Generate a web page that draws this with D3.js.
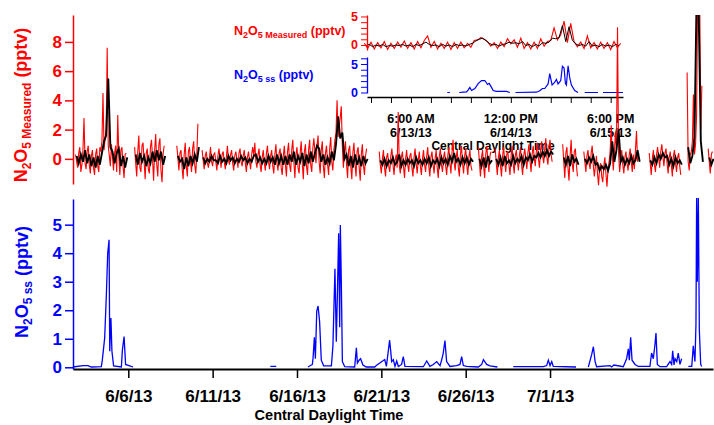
<!DOCTYPE html>
<html>
<head>
<meta charset="utf-8">
<script src="https://cdn.jsdelivr.net/npm/d3@7"></script>
<style>
body { margin: 0; background: #fff; }
text { font-family: "Liberation Sans", Arial, sans-serif; font-weight: bold; }
</style>
</head>
<body>
<div id="chart"></div>
<script>
// ---- data ----

// main x axis tick labels
const dateTicks = ["6/6/13", "6/11/13", "6/16/13", "6/21/13", "6/26/13", "7/1/13"];

// N2O5 measured (pptv), one value every 1.5 h starting 6/2/13 21:00, null = no data
const measuredStart = "2013-06-02 21:00";
const measuredStepHours = 1.5;
const measured = [
  0.3, -0.2, -0.6, 0.4, 0.8, -0.9, -0.4, 0.6, 2.8, -0.3, -0.7, 0.5, 0.9, -0.4, -1.0, 0.2, 0.6, -0.6, -1.1, 0.3,
  0.7, -0.5, -0.9, 0.8, 0.5, 1.2, 4.5, 0.6, 1.4, 2.0, 7.6, 0.9, 0.2, -0.5, 1.0, 0.1, -0.8, 0.4, 0.9, -0.9,
  3.0, 0.2, -1.1, 0.6, 0.8, -0.5, -1.3, 0.3, 0.4,
  null, null, null, null, null, null, null,
  0.8, -0.3, -1.2, 0.5, 1.6, -0.6, -0.9, 0.9, 1.1, -0.2, -1.4, 0.4, 0.7, -0.7, -1.0, 0.8, 1.3, 0.0, -1.5, 0.6,
  1.7, -0.4, -1.2, 1.0, 1.4, -0.8, -1.6, 0.3, 0.9,
  null, null, null, null, null, null, null, null, null, null, null,
  0.9, 0.1, -0.8, 0.4, 0.6, -0.6, -1.4, 0.3, 1.1, -0.5, -1.2, 0.5, 0.8, -0.2, -0.9, 0.7, 1.2, -0.4, -1.0, 0.3,
  2.4,
  null, null, null,
  0.6, -0.1, -0.7, 0.2, 0.5, -0.3, -0.6, 0.1, 0.8, -0.2, -0.5, 0.3, 0.4, -0.2, -0.8, 0.2, 0.7, 0.0, -0.6, 0.3,
  0.5, -0.2, -0.7, 0.1, 0.9, -0.1, -0.4, 0.3, 0.6, -0.3, -0.8, 0.2, 0.5, 0.0, -0.6, 0.4, 0.7, -0.2, -0.5, 0.2,
  0.6, -0.3, -0.9, 0.1, 0.5, -0.2, -0.7, 0.3, 0.8, 0.2, 1.1, -0.2, -0.6, 0.3, 0.7, -0.4, -0.9, 0.1, 0.6, -0.3,
  -0.8, 0.4, 0.9, -0.2, -0.7, 0.2, 0.6, -0.5, -1.0, 0.3, 1.0, -0.3, -0.8, 0.4, 0.7, -0.6, -1.1, 0.2, 0.9, -0.4,
  -1.2, 0.5, 1.1, -0.4, -0.9, 0.6, 1.3, -0.2, -1.3, 0.3, 0.8, -0.6, -1.0, 0.4, 1.2, -0.3, -1.4, 0.5, 1.0, -0.5,
  -1.1, 0.6, 1.3, -0.4, -0.9, 0.7, 1.4, 0.5, -0.3, 0.9, 1.6, -0.2, -1.0, 0.6, 1.2, -0.5, -1.3, 0.4, 0.9, -0.4,
  -1.1, 0.7, 1.5, -0.2, -0.8, 0.6, 1.3, 1.8, 4.0, 1.5, 2.2, 2.8, 3.6, 0.9, -0.6, 0.5, 1.2, -0.4, -1.3, 0.6,
  0.9, -0.5, -1.4, 0.4, 1.1, -0.3, -1.2, 0.5, 0.8, -0.6, -1.5, 0.3, 1.0, -0.4, -1.1, 0.2, 0.7,
  null, null, null, null, null, null, null, null, null, null, null,
  0.5, -0.4, -1.0, 0.0, 0.6, -0.6, -1.2, 0.1, 0.4, -0.5, -0.9, 0.2, 0.7, -0.3, -1.1, -0.2, 0.3, -0.6, 3.2, -0.4,
  -1.0, 0.1, 0.5, -0.5, -1.3, 0.0, 0.6, -0.4, -0.9, 0.2, 0.4, -0.6, -1.2, 0.1, 0.7, -0.3, -1.0, -0.1, 0.5, -0.5,
  -1.1, 0.0, 0.6, -0.4, -0.9, 0.2, 0.8, -0.5, -1.2, 0.1, 0.5, -0.3, -1.0, 0.0, 0.6, -0.6, -1.3, 0.2, 0.7, -0.4,
  -0.9, 0.1, 0.5, -0.5, -1.1, 0.2, 0.8, -0.3, -1.0, 0.4, 1.3, -0.2, -0.8, 0.1, 0.6, -0.6, -1.2, 0.3, 0.9, -0.3,
  -1.0, 0.2, 0.7, -0.4, -1.1, 0.1, 0.6, -0.5, -0.8,
  null, null, null, null, null,
  0.8, -0.2, -1.2, 0.1, 0.6, -0.5, -1.3, 0.3, 0.9, -0.1, -0.9, 0.2, 0.5,
  null, null, null,
  0.7, -0.3, -1.1, 0.1, 0.6, -0.5, -1.2, 0.2, 0.8, -0.2, -0.9, 0.3, 0.5, -0.4, -1.1, 0.1, 0.9, -0.3, -1.0, 0.2,
  0.6, -0.2, -0.8, 0.3, 0.8, -0.4, -1.1, 0.2, 0.7, 0.0, -0.7, 0.4, 1.0, -0.1, -0.9, 0.3, 0.9, 0.1, -0.5, 0.5,
  1.1, 0.0, -0.6, 0.6, 1.2, 0.2, -0.3, 0.7, 1.4, 0.1, -0.4, 0.8, 1.3, 0.3, -0.2,
  null, null, null, null, null, null, null, null, null,
  1.0, -0.2, -1.3, 0.4, 0.8, -0.6, -1.5, 0.2, 1.3, -0.3, -0.9, 0.5, 0.7, -0.4, -1.2,
  null, null, null, null, null,
  0.5, -0.2, -0.9, 0.2, 0.6, -0.3, -0.7, 0.4, 0.9, -0.4, -1.2, -0.5, 0.2, -1.0, -1.8, -0.6, -0.3, -1.2, -1.6, -0.5,
  0.1, -1.0, -1.9, -0.7, -0.2, 0.5, 2.3, 0.3, -0.8, 0.4, 1.8, 0.6, 9.0, 0.4, -0.9, -0.2, 0.6, -0.4, -1.0, 0.1,
  0.5, -0.3, -0.8, 0.2, 0.7, -0.2, -0.9, 0.3, -0.7, 0.6, 1.9, -0.2, 0.4,
  null, null, null, null, null, null, null, null, null,
  0.4, -0.3, -1.1, 0.0, 0.6, -0.4, -0.9, 0.3, 0.8, 0.1, -0.6, 0.5, 1.0, 0.2, -0.5, 0.4, 0.7, -0.3, -1.0, 0.1,
  0.5, -0.4, -1.2, 0.2, 0.6, -0.3, -0.9, 0.1, 0.4, -0.5, -1.1,
  null, null, null, null, null,
  5.9, -0.2, -0.8, 0.3, 0.5, 1.2, 4.4, 0.3, 1.0, 3.0, 11, 12, 10.5, 2.0, 5.0,
  null, null, null, null, null,
  0.7, -0.2, -1.0, 0.3, 0.5
];

// averaged N2O5 (black trace), every 3 h starting 6/2/13 22:30
const averagedStart = "2013-06-02 22:30";
const averagedStepHours = 3;
const averaged = [
  0.2, -0.3, 0.3, -0.2, 0.6, -0.3, 0.3, -0.5, 0.1, -0.6, 0.2, -0.4, 0.4, 1.2, 1.6, 5.5, 0.8, 0.5, -0.3, 0.4, 0.7, -0.5, 0.2, -0.6, 0.1,
  null, null, null,
  0.3, -0.4, 0.4, -0.2, 0.2, -0.5, 0.1, -0.3, 0.5, -0.2, 0.6, -0.1, 0.5, -0.4, 0.2,
  null, null, null, null, null,
  0.2, -0.2, 0.0, -0.7, 0.1, -0.5, 0.2, -0.3, 0.3, -0.2, 0.8,
  null,
  0.1, -0.3, 0.0, -0.2, 0.2, -0.1, -0.1, -0.3, 0.2, -0.2,
  0.0, -0.3, 0.2, -0.1, 0.1, -0.3, 0.0, -0.2, 0.2, -0.1,
  0.1, -0.3, 0.0, -0.2, 0.2, 0.3, -0.2, 0.1, -0.3, 0.0,
  -0.3, 0.2, -0.2, 0.1, -0.4, 0.3, -0.3, 0.2, -0.4, 0.2,
  -0.4, 0.3, -0.2, 0.5, -0.4, 0.2, -0.2, 0.4, -0.5, 0.3,
  -0.3, 0.5, -0.2, 0.4, 0.9, 0.7, -0.2, 0.3, -0.4, 0.1,
  -0.3, 0.5, -0.1, 1.0, 2.9, 1.4, 1.8, 0.0, 0.3, -0.5,
  0.2, -0.6, 0.3, -0.4, 0.1, -0.5, 0.2, -0.3, 0.0,
  null, null, null, null, null,
  -0.1, -0.4, 0.0, -0.5, -0.1, -0.3, 0.1, -0.4, -0.2, 0.3,
  -0.5, -0.1, -0.4, 0.0, -0.3, -0.1, -0.5, 0.1, -0.3, -0.1,
  -0.4, 0.0, -0.3, 0.1, -0.5, -0.1, -0.3, 0.0, -0.5, 0.1,
  -0.3, 0.0, -0.4, 0.2, -0.2, 0.4, -0.2, 0.0, -0.4, 0.1,
  -0.3, 0.1, -0.4, 0.0, -0.2,
  null, null,
  0.0, -0.5, 0.1, -0.6, 0.2, -0.3, -0.1,
  null,
  0.0, -0.4, 0.1, -0.5, 0.2, -0.3, -0.1, -0.4, 0.2, -0.3,
  0.0, -0.2, 0.2, -0.4, 0.1, -0.1, 0.3, -0.2, 0.2, 0.1,
  0.4, 0.1, 0.5, 0.2, 0.6, 0.2, 0.5, 0.3,
  null, null, null, null,
  0.1, -0.4, 0.2, -0.5, 0.3, -0.2, 0.0, -0.4,
  null, null,
  0.0, -0.3, 0.1, -0.2, 0.2, -0.4, -0.3, -0.8, -0.5, -0.7, -0.4, -0.8, -0.3, 1.2,
  -0.2, 0.6, 2.0, -0.2, 0.1, -0.4, 0.0, -0.3, 0.2, -0.3, -0.1, 0.6, -0.2,
  null, null, null, null,
  -0.1, -0.4, 0.1, -0.3, 0.3, 0.0, 0.4, 0.1, 0.2, -0.4, 0.0, -0.5, 0.1, -0.3, -0.1, -0.4,
  null, null,
  0.8, -0.3, 0.2, 1.5, 11, 10, 1.2, -0.2,
  null, null,
  0.1, -0.4, 0.0
];

// N2O5 steady state (pptv): days after 6/1/13 00:00 and values, null = gap
const ssDay = [
  1.72, 2.31, 2.61, 2.81, 3.40, 3.46, 3.60, 3.70, 3.78, 3.86,
  3.90, 3.97, 4.03, 4.13, 4.59, 4.65, 4.75, 4.84, 5.08, 5.28,
  5.30, 13.42, 13.77, 13.80, 15.65, 15.91, 15.95, 16.03, 16.09, 16.17,
  16.25, 16.34, 16.44, 16.58, 17.04, 17.13, 17.25, 17.33, 17.39, 17.47,
  17.53, 17.57, 17.63, 17.69, 17.83, 18.42, 18.52, 18.58, 18.68, 18.77,
  18.91, 19.11, 19.61, 19.70, 20.20, 20.30, 20.49, 20.55, 20.61, 20.71,
  20.81, 20.91, 21.01, 21.20, 21.30, 21.40, 22.49, 22.69, 22.88, 23.08,
  23.28, 23.48, 23.58, 23.67, 23.77, 23.87, 24.07, 24.46, 24.66, 24.76,
  24.86, 25.06, 25.75, 25.95, 26.05, 26.24, 26.44, 26.88, 26.90, 27.82,
  29.60, 29.80, 29.90, 30.00, 30.10, 30.19, 31.54, 31.60, 32.27, 32.47,
  32.57, 32.67, 32.76, 33.55, 33.65, 33.79, 34.34, 34.54, 34.64, 34.70,
  34.78, 34.86, 35.04, 35.23, 35.92, 36.02, 36.12, 36.22, 36.28, 36.36,
  36.52, 36.91, 37.11, 37.21, 37.27, 37.35, 37.41, 37.51, 37.60, 37.70,
  37.80, 37.85, 38.20, 38.40, 38.49, 38.59, 38.65, 38.69, 38.73, 38.79,
  38.85, 38.93, 38.99
];
const ssValue = [
  0.01, 0.06, 0.06, 0.01, 0.02, 0.25, 1.03, 2.54, 4.0, 4.47,
  0.56, 1.73, 0.56, 0.05, 0.01, 0.6, 1.08, 0.1, 0.05, 0.01,
  null, 0.03, 0.03, null, 0.01, 0.1, 0.3, 1.05, 0.3, 1.96,
  2.15, 1.6, 0.25, 0.05, 0.05, 0.75, 3.45, 0.9, 2.45, 4.7,
  1.4, 4.99, 2.9, 0.2, 0.02, 0.01, 0.68, 0.15, 0.25, 0.3,
  0.08, 0.01, 0.01, 0.06, 0.27, 0.03, 0.95, 0.6, 0.2, 0.27,
  0.03, 0.22, 0.03, 0.1, 0.37, 0.03, 0.02, 0.22, 0.03, 0.1,
  0.2, 0.06, 0.27, 0.5, 0.94, 0.2, 0.03, 0.06, 0.1, 0.37,
  0.06, 0.03, 0.01, 0.1, 0.27, 0.1, 0.05, 0.01, null, 0.02,
  0.02, 0.06, 0.25, 0.06, 0.2, 0.03, 0.01, null, 0.01, 0.45,
  0.72, 0.2, 0.02, 0.06, 0.01, 0.08, 0.02, 0.3, 0.65, 0.25,
  1.05, 0.25, 0.1, 0.03, 0.03, 0.5, 0.3, 0.8, 1.2, 0.1,
  0.02, 0.02, 0.2, 0.1, 0.58, 0.08, 0.3, 0.2, 0.5, 0.1,
  0.3, null, 0.03, 0.03, 0.75, 0.2, 1.5, 6.0, 3.0, 6.0,
  1.3, 0.1, 0.03
];

// inset: 6/12 - 6/15, measured every hour from 6/12 16:00
const insetMeasuredStart = "2013-06-12 16:00";
const insetMeasured = [
  0.3, -0.6, 0.5, -0.7, 0.4, -0.5, 0.6, -0.8, 0.3, -0.6,
  0.5, -0.4, 0.7, -0.6, 0.4, -0.7, 0.6, -0.5, 0.8, 1.6,
  -0.4, 0.6, -0.7, 0.3, -0.6, 0.5, -0.8, 0.4, -0.6, 0.5,
  -0.5, 0.3, -0.4, 0.8, 0.9, 1.3, 1.0, 0.6, -0.2, 0.4,
  -0.6, 0.5, -0.3, 1.1, 0.2, 0.9, -0.4, 1.2, -0.6, 0.4,
  -0.7, 0.5, -0.6, 1.1, -0.2, 0.6, 0.8, 3.0, 0.9, 1.8,
  4.2, 0.4, 3.8, 0.6, -0.3, 0.5, -0.6, 1.6, -0.5, 0.4,
  -0.7, 0.5, -0.6, 0.4, -0.8, 0.6, -0.5, 0.3
];
const insetAveragedStart = "2013-06-12 16:30";
const insetAveraged = [
  -0.1, 0.1, -0.3, 0.0, -0.2, 0.1, -0.3, -0.1, -0.2, 0.0,
  -0.1, 0.1, -0.2, 0.0, -0.3, 0.1, -0.1, 0.2, 0.5, 0.1,
  -0.1, 0.0, -0.3, 0.1, -0.2, 0.0, -0.3, 0.1, -0.1, 0.0,
  -0.2, 0.1, 0.3, 0.7, 1.0, 1.2, 0.8, 0.3, 0.0, 0.1,
  -0.2, 0.1, 0.2, 0.5, 0.3, 0.4, 0.2, 0.6, -0.1, 0.1,
  -0.3, 0.1, -0.2, 0.4, 0.3, 0.5, 1.2, 1.1, 1.3, 3.4,
  0.6, 3.2, 0.8, 0.2, -0.1, 0.1, -0.2, 0.6, -0.2, 0.0,
  -0.3, 0.1, -0.2, 0.0, -0.3, 0.1, -0.1
];
// inset steady state: hours after 6/12 00:00
const insetSsHour = [
  40.9, 41.7, 41.8, 44.5, 45.7, 46.7, 47.2, 47.7, 48.2, 49.2,
  50.2, 51.2, 52.2, 53.0, 53.5, 54.2, 54.7, 55.7, 58.7, 59.7,
  59.8, 61.4, 67.7, 68.7, 69.5, 70.2, 71.2, 71.7, 72.4, 73.2,
  73.7, 74.2, 75.0, 75.5, 76.0, 76.4, 76.7, 77.2, 77.7, 78.2,
  79.2, 80.2, 80.3, 82.2, 86.2, 86.3, 87.7, 93.7
];
const insetSsValue = [
  0, 0, null, 0, 0.05, 0.1, 0.45, 0.9, 0.35, 0.7,
  1.57, 2.1, 2.1, 1.4, 1.6, 0.9, 0.35, 0.2, 0.2, 0,
  null, 0, 0.05, 0.3, 0.7, 0.7, 1.5, 3.3, 1.3, 1.8,
  2.3, 1.5, 2.1, 4.6, 4.3, 1.6, 1.3, 4.7, 2.6, 1.3,
  0.35, 0, null, 0, 0, null, 0, 0
];
const insetLabelTimes = ["2013-06-13 06:00", "2013-06-14 12:00", "2013-06-15 18:00"];

// ---- helpers ----
const parseTime = d3.timeParse("%Y-%m-%d %H:%M");
const parseTick = d3.timeParse("%m/%d/%y");
const day0 = parseTime("2013-06-01 00:00");
const hour = 36e5;

const stepped = (start, stepH, vals) => {
  const t0 = parseTime(start).getTime();
  return vals.map((v, i) => ({t: new Date(t0 + i * stepH * hour), v}));
};

const measuredData = stepped(measuredStart, measuredStepHours, measured);
const averagedData = stepped(averagedStart, averagedStepHours, averaged);
const ssData = ssDay.map((d, i) => ({t: new Date(day0.getTime() + d * 24 * hour), v: ssValue[i]}));
const insetMeasuredData = stepped(insetMeasuredStart, 1, insetMeasured);
const insetAveragedData = stepped(insetAveragedStart, 1, insetAveraged);
const insetDay0 = parseTime("2013-06-12 00:00").getTime();
const insetSsData = insetSsHour.map((h, i) => ({t: new Date(insetDay0 + h * hour), v: insetSsValue[i]}));

const RED = "#ff0000", BLUE = "#0000ff";
const FONT = '"Liberation Sans", Arial, sans-serif';

const svg = d3.select("#chart")
    .append("svg")
    .attr("width", 714)
    .attr("height", 425);

// subscripted formula label
function formula(text, parts, big, small, shift) {
  let cur = 0;
  parts.forEach(([s, sub]) => {
    const want = sub ? shift : 0;
    text.append("tspan")
        .attr("font-size", sub ? small : big)
        .attr("dy", want - cur)
        .text(s);
    cur = want;
  });
}

// ---- scales ----
const x = d3.scaleTime()
    .domain([parseTime("2013-06-02 17:20"), parseTime("2013-07-10 15:50")])
    .range([73, 713]);
const yTop = d3.scaleLinear().domain([-1.72, 9.84]).range([184, 15]);
const yBot = d3.scaleLinear().domain([-0.06, 5.9]).range([369, 199]);

const xi = d3.scaleTime()
    .domain([parseTime("2013-06-12 16:48"), parseTime("2013-06-15 21:42")])
    .range([367, 623]);
const yiRed = d3.scaleLinear().domain([-0.88, 5.26]).range([50, 15]);
const yiBlue = d3.scaleLinear().domain([-0.09, 6.23]).range([93, 57]);

const defs = svg.append("defs");
defs.append("clipPath").attr("id", "clipTop")
    .append("rect").attr("x", 73).attr("y", 15).attr("width", 641).attr("height", 180);
defs.append("clipPath").attr("id", "clipBot")
    .append("rect").attr("x", 73).attr("y", 198).attr("width", 641).attr("height", 172);

const line = (xs, ys) => d3.line()
    .defined(d => d.v != null)
    .x(d => xs(d.t))
    .y(d => ys(d.v));

// ---- inset ----
const inset = svg.append("g");

inset.append("path").datum(insetMeasuredData)
    .attr("fill", "none").attr("stroke", RED).attr("stroke-width", 1.1)
    .attr("d", line(xi, yiRed));
inset.append("path").datum(insetAveragedData)
    .attr("fill", "none").attr("stroke", "#000").attr("stroke-width", 1)
    .attr("d", line(xi, yiRed));
inset.append("path").datum(insetSsData)
    .attr("fill", "none").attr("stroke", BLUE).attr("stroke-width", 1.2)
    .attr("d", line(xi, yiBlue));

const insetAxisY = (g, scale, color) => {
  g.attr("transform", "translate(367,0)")
   .call(d3.axisLeft(scale).tickValues(d3.range(0, 7).filter(v => v <= scale.domain()[1]))
      .tickSize(6).tickSizeOuter(0).tickPadding(3)
      .tickFormat(v => (v === 0 || v === 5) ? v : ""));
  g.select(".domain").attr("stroke", color).attr("stroke-width", 1.3);
  g.selectAll(".tick line").attr("stroke", color);
  g.selectAll(".tick text").attr("fill", color).attr("font-size", 12.5).style("font-family", FONT);
};
inset.append("g").call(insetAxisY, yiRed, RED);
inset.append("g").call(insetAxisY, yiBlue, BLUE);

const ixAxis = inset.append("g")
    .attr("transform", "translate(0,97)")
    .call(d3.axisBottom(xi).ticks(d3.timeHour.every(6)).tickSize(6).tickSizeOuter(0).tickFormat(""));
ixAxis.select(".domain").attr("stroke-width", 1.3);

const insetLabels = inset.append("g").attr("font-size", 12.5).attr("text-anchor", "middle");
insetLabelTimes.forEach(s => {
  const d = parseTime(s);
  insetLabels.append("text").attr("x", xi(d)).attr("y", 122.5).text(d3.timeFormat("%-I:%M %p")(d));
  insetLabels.append("text").attr("x", xi(d)).attr("y", 136.5).text(d3.timeFormat("%-m/%-d/%y")(d));
});
inset.append("text").attr("x", 493).attr("y", 150).attr("text-anchor", "middle")
    .attr("font-size", 12).text("Central Daylight Time");

formula(inset.append("text").attr("x", 234).attr("y", 35).attr("fill", RED),
  [["N", 0], ["2", 1], ["O", 0], ["5", 1], [" Measured", 1], [" (pptv)", 0]], 12.5, 9, 2.5);
formula(inset.append("text").attr("x", 234).attr("y", 79).attr("fill", BLUE),
  [["N", 0], ["2", 1], ["O", 0], ["5", 1], [" ss", 1], [" (pptv)", 0]], 12.5, 9, 2.5);

// ---- top panel: measured ----
const topG = svg.append("g").attr("clip-path", "url(#clipTop)");
topG.append("path").datum(measuredData)
    .attr("fill", "none").attr("stroke", RED).attr("stroke-width", 1.1)
    .attr("d", line(x, yTop));
topG.append("path").datum(averagedData)
    .attr("fill", "none").attr("stroke", "#000").attr("stroke-width", 1.9)
    .attr("d", line(x, yTop));

const yTopAxis = svg.append("g")
    .attr("transform", "translate(73,0)")
    .call(d3.axisLeft(yTop).tickValues([0, 2, 4, 6, 8]).tickFormat(d3.format("d"))
      .tickSize(8).tickSizeOuter(0).tickPadding(3));
yTopAxis.select(".domain").attr("stroke", RED).attr("stroke-width", 1.5);
yTopAxis.selectAll(".tick line").attr("stroke", RED).attr("stroke-width", 1.5);
yTopAxis.selectAll(".tick text").attr("fill", RED).attr("font-size", 17).style("font-family", FONT);

formula(svg.append("text").attr("transform", "translate(27,105) rotate(-90)")
    .attr("text-anchor", "middle").attr("fill", RED),
  [["N", 0], ["2", 1], ["O", 0], ["5", 1], [" Measured", 1], [" (pptv)", 0]], 18, 12, 4);

// ---- bottom panel: steady state ----
const botG = svg.append("g").attr("clip-path", "url(#clipBot)");
botG.append("path").datum(ssData)
    .attr("fill", "none").attr("stroke", BLUE).attr("stroke-width", 1.3)
    .attr("d", line(x, yBot));

const yBotAxis = svg.append("g")
    .attr("transform", "translate(73,0)")
    .call(d3.axisLeft(yBot).tickValues([0, 1, 2, 3, 4, 5]).tickFormat(d3.format("d"))
      .tickSize(8).tickSizeOuter(0).tickPadding(3));
yBotAxis.select(".domain").attr("stroke", BLUE).attr("stroke-width", 1.5);
yBotAxis.selectAll(".tick line").attr("stroke", BLUE).attr("stroke-width", 1.5);
yBotAxis.selectAll(".tick text").attr("fill", BLUE).attr("font-size", 17).style("font-family", FONT);

formula(svg.append("text").attr("transform", "translate(28,282) rotate(-90)")
    .attr("text-anchor", "middle").attr("fill", BLUE),
  [["N", 0], ["2", 1], ["O", 0], ["5", 1], [" ss", 1], [" (pptv)", 0]], 18, 12, 4);

const xAxis = svg.append("g")
    .attr("transform", "translate(0,369)")
    .call(d3.axisBottom(x).tickValues(dateTicks.map(parseTick))
      .tickFormat(d3.timeFormat("%-m/%-d/%y")).tickSize(9).tickSizeOuter(0).tickPadding(12));
xAxis.select(".domain").attr("stroke-width", 1.8);
xAxis.selectAll(".tick line").attr("stroke-width", 1.5);
xAxis.selectAll(".tick text").attr("font-size", 17).style("font-family", FONT);

svg.append("text").attr("x", 329).attr("y", 420).attr("text-anchor", "middle")
    .attr("font-size", 14.5).text("Central Daylight Time");
</script>
</body>
</html>
